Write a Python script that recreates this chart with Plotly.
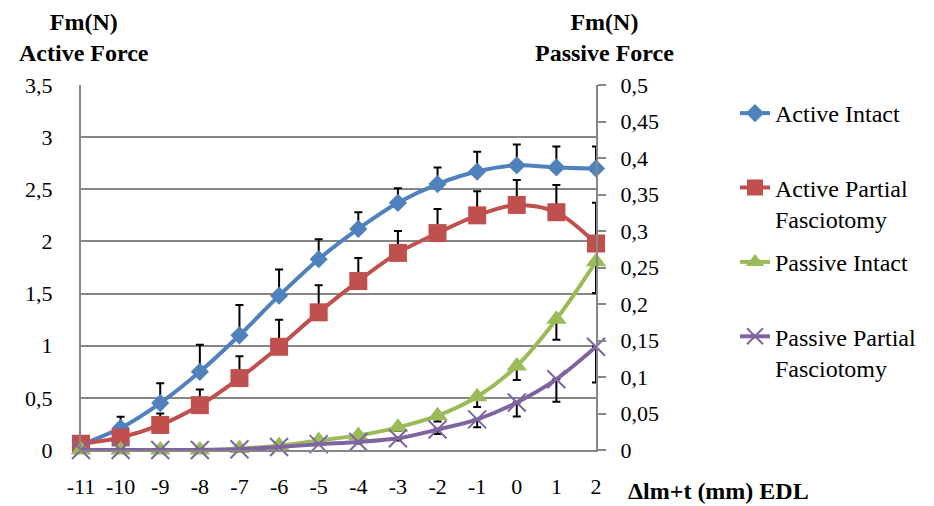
import plotly.graph_objects as go

# ---- data ----
x_values = [-11, -10, -9, -8, -7, -6, -5, -4, -3, -2, -1, 0, 1, 2]
x_tick_labels = ["-11", "-10", "-9", "-8", "-7", "-6", "-5", "-4", "-3", "-2", "-1", "0", "1", "2"]

active_intact = [0.05, 0.21, 0.45, 0.75, 1.10, 1.48, 1.83, 2.12, 2.37, 2.55, 2.67, 2.73, 2.71, 2.70]
active_intact_err = [0.0, 0.11, 0.19, 0.26, 0.29, 0.25, 0.19, 0.16, 0.14, 0.16, 0.19, 0.20, 0.20, 0.21]

active_partial = [0.06, 0.12, 0.24, 0.43, 0.69, 0.99, 1.32, 1.62, 1.89, 2.08, 2.25, 2.35, 2.28, 1.98]
active_partial_err = [0.0, 0.03, 0.11, 0.15, 0.21, 0.26, 0.26, 0.22, 0.21, 0.23, 0.23, 0.24, 0.26, 0.39]

passive_intact = [0.0, 0.0, 0.0, 0.0, 0.002, 0.006, 0.013, 0.020, 0.031, 0.047, 0.073, 0.115, 0.179, 0.258]
passive_intact_err = [0, 0, 0, 0, 0, 0.001, 0.002, 0.003, 0.005, 0.008, 0.014, 0.019, 0.028, 0.043]

passive_partial = [0.0, 0.0, 0.0, 0.0, 0.001, 0.004, 0.008, 0.011, 0.016, 0.028, 0.042, 0.065, 0.097, 0.1415]
passive_partial_err = [0, 0, 0, 0, 0, 0, 0.001, 0.002, 0.003, 0.006, 0.011, 0.019, 0.031, 0.049]

names = ["Active Intact<br> ", "Active Partial<br>Fasciotomy",
         "Passive Intact<br> ", "Passive Partial<br>Fasciotomy"]
colors = ["#4F81BD", "#C0504D", "#9BBB59", "#8064A2"]

FONT = "Liberation Serif, DejaVu Serif, serif"
GRID = "#868686"

fig = go.Figure()


def err(arr, up):
    zeros = [0] * len(arr)
    if up:
        return dict(type="data", symmetric=False, array=arr, arrayminus=zeros,
                    color="black", thickness=2, width=4)
    return dict(type="data", symmetric=False, array=zeros, arrayminus=arr,
                color="black", thickness=2, width=4)


fig.add_trace(go.Scatter(
    x=x_values, y=active_intact, name=names[0], legendgroup="a",
    mode="lines+markers", line=dict(color=colors[0], width=4, shape="spline", smoothing=0.9),
    marker=dict(symbol="diamond", size=14, color=colors[0]),
    error_y=err(active_intact_err, True), cliponaxis=False, yaxis="y"))

fig.add_trace(go.Scatter(
    x=x_values, y=active_partial, name=names[1], legendgroup="b",
    mode="lines+markers", line=dict(color=colors[1], width=4, shape="spline", smoothing=0.9),
    marker=dict(symbol="square", size=18, color=colors[1]),
    error_y=err(active_partial_err, True), cliponaxis=False, yaxis="y"))

fig.add_trace(go.Scatter(
    x=x_values, y=passive_intact, name=names[2], legendgroup="c",
    mode="lines+markers", line=dict(color=colors[2], width=4, shape="spline", smoothing=0.9),
    marker=dict(symbol="triangle-up", size=18, color=colors[2]),
    error_y=err(passive_intact_err, False), cliponaxis=False, yaxis="y2"))

fig.add_trace(go.Scatter(
    x=x_values, y=passive_partial, name=names[3], legendgroup="d",
    mode="lines+markers", line=dict(color=colors[3], width=4, shape="spline", smoothing=0.9),
    marker=dict(symbol="x-thin", size=18, color=colors[3],
                line=dict(width=2, color=colors[3])),
    error_y=err(passive_partial_err, False), cliponaxis=False, yaxis="y2"))

fig.update_layout(
    template="none",
    width=934, height=506,
    margin=dict(l=81, r=338, t=85, b=56, autoexpand=False),
    paper_bgcolor="white", plot_bgcolor="white",
    separators=",.",
    font=dict(family=FONT, size=22, color="black"),
    showlegend=True,
    legend=dict(x=(735 - 81) / 515, y=(450 - 91) / 365, xanchor="left", yanchor="top",
                font=dict(family=FONT, size=24, color="black"),
                tracegroupgap=9, valign="top", bgcolor="rgba(0,0,0,0)", borderwidth=0),
    xaxis=dict(range=[-11, 2], tickvals=x_values, ticktext=x_tick_labels, automargin=False,
               showgrid=False, zeroline=False, showline=True, linecolor=GRID, linewidth=2,
               ticks="", ticklabelstandoff=16, tickfont=dict(family=FONT, size=22)),
    yaxis=dict(range=[0, 3.5], dtick=0.5, tick0=0, showgrid=True, gridcolor=GRID, gridwidth=1.5,
               zeroline=False, showline=True, linecolor=GRID, linewidth=2, automargin=False,
               ticks="", ticklabelstandoff=22, tickfont=dict(family=FONT, size=22)),
    yaxis2=dict(range=[0, 0.5], dtick=0.05, tick0=0, overlaying="y", side="right",
                showgrid=False, zeroline=False, showline=True, linecolor=GRID, linewidth=2,
                automargin=False, tickfont=dict(family=FONT, size=22),
                ticks="outside", ticklen=8, tickwidth=1.5, tickcolor=GRID, ticklabelstandoff=10),
    annotations=[
        dict(text="<b>Fm(N)</b><br><b>Active Force</b>", xref="paper", yref="paper",
             x=(84 - 81) / 515, y=(450 - 38) / 365, xanchor="center", yanchor="middle",
             showarrow=False, font=dict(family=FONT, size=24)),
        dict(text="<b>Fm(N)</b><br><b>Passive Force</b>", xref="paper", yref="paper",
             x=(604 - 81) / 515, y=(450 - 38) / 365, xanchor="center", yanchor="middle",
             showarrow=False, font=dict(family=FONT, size=24)),
        dict(text="<b>Δlm+t (mm) EDL</b>", xref="paper", yref="paper",
             x=(626 - 81) / 515, y=(450 - 491) / 365, xanchor="left", yanchor="middle",
             showarrow=False, font=dict(family=FONT, size=24)),
    ],
)

fig.write_html("out.html", config={"displayModeBar": False},
               post_script="document.body.style.margin='0';document.body.style.padding='0';")
